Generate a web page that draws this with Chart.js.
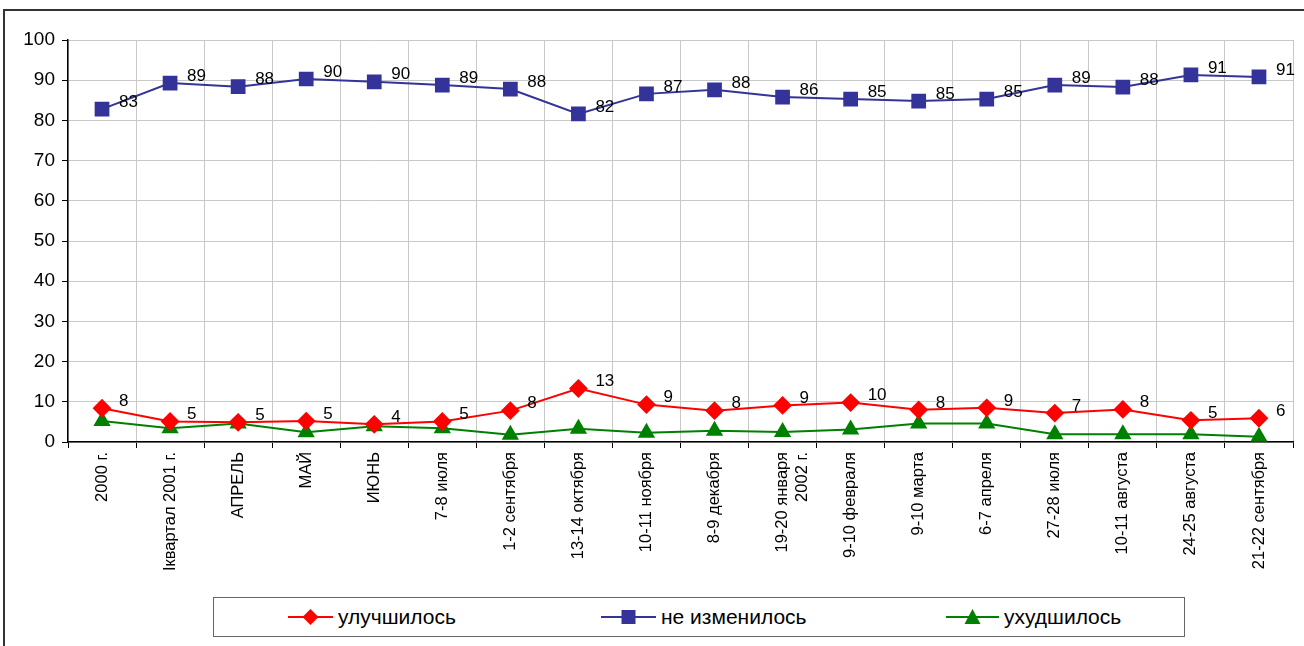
<!DOCTYPE html>
<html>
<head>
<meta charset="utf-8">
<script src="https://cdn.jsdelivr.net/npm/chart.js@4/dist/chart.umd.min.js"></script>
<style>
  body { margin:0; background:#fff; overflow:hidden; }
  #wrap { position:absolute; left:0; top:0; width:1304px; height:646px; }
  #frame { position:absolute; left:3px; top:9px; width:1400px; height:700px; border:2px solid #333; box-sizing:border-box; }
  #chart { position:absolute; left:0; top:0; }
  #legend { position:absolute; left:213px; top:597px; width:972px; height:40px; border:1px solid #666;
            box-sizing:border-box; font-family:"Liberation Sans", Arial, sans-serif; font-size:21px; color:#000; background:#fff; }
  .it { position:absolute; top:0; height:38px; line-height:38px; white-space:nowrap; }
  .it svg { vertical-align:middle; margin-right:5px; position:relative; top:-1px; }
</style>
</head>
<body>
<div id="wrap">
  <div id="frame"></div>
  <canvas id="chart" width="1304" height="646"></canvas>
  <div id="legend"></div>
</div>
<script>
var lbl = ["2000 г.","Iквартал 2001 г.","АПРЕЛЬ","МАЙ","ИЮНЬ","7-8 июля","1-2 сентября","13-14 октября",
  "10-11 ноября","8-9 декабря",["19-20 января","2002 г."],"9-10 февраля","9-10 марта","6-7 апреля",
  "27-28 июля","10-11 августа","24-25 августа","21-22 сентября"];
var better = [8.4,5.1,4.9,5.2,4.4,5.1,7.8,13.3,9.3,7.8,9.1,9.8,8.0,8.5,7.2,8.1,5.4,5.9];
var same = [82.8,89.3,88.4,90.3,89.6,88.8,87.8,81.6,86.6,87.6,85.8,85.3,84.8,85.3,88.8,88.3,91.3,90.8];
var worse = [5.2,3.4,4.6,2.4,3.9,3.4,1.8,3.3,2.3,2.8,2.5,3.1,4.6,4.6,1.9,1.9,1.9,1.3];
var names = ["улучшилось","не изменилось","ухудшилось"];
var cols = ["#FF0000","#333399","#008000"];

var FONT = '"Liberation Sans", Arial, sans-serif';

// value labels next to red and blue points
var valLabels = {
  id: 'valLabels',
  afterDatasetsDraw: function(chart){
    var ctx = chart.ctx;
    ctx.save();
    ctx.font = '17px ' + FONT;
    ctx.fillStyle = '#000';
    ctx.textAlign = 'left';
    ctx.textBaseline = 'middle';
    [0,1].forEach(function(di){
      var meta = chart.getDatasetMeta(di);
      meta.data.forEach(function(pt, i){
        var v = chart.data.datasets[di].data[i];
        ctx.fillText(Math.round(v), pt.x + 17, pt.y - 7);
      });
    });
    ctx.restore();
  }
};

var ctx = document.getElementById("chart");
var chart = new Chart(ctx, {
  type: 'line',
  data: {
    labels: lbl,
    datasets: [
      {label:names[0], data:better, borderColor:cols[0], backgroundColor:cols[0], borderWidth:2,
       pointStyle:'rectRot', pointRadius:8, pointHoverRadius:8},
      {label:names[1], data:same, borderColor:cols[1], backgroundColor:cols[1], borderWidth:2,
       pointStyle:'rect', pointRadius:9, pointHoverRadius:9},
      {label:names[2], data:worse, borderColor:cols[2], backgroundColor:cols[2], borderWidth:2,
       pointStyle:'triangle', pointRadius:8, pointHoverRadius:8}
    ]
  },
  options: {
    responsive: false,
    animation: false,
    layout: { padding: {left:4, top:40, right:3, bottom:54} },
    plugins: { legend:{display:false}, tooltip:{enabled:false} },
    scales: {
      x: {
        offset: true,
        grid: { offset:true, color:'#c8c8c8', tickColor:'#000', tickLength:6 },
        border: { color:'#000', width:1.5 },
        ticks: { color:'#000', font:{family:FONT, size:16.5}, maxRotation:90, minRotation:90, autoSkip:false, padding:4 },
        afterFit: function(s){ s.height = 150; }
      },
      y: {
        min:0, max:100,
        grid: { color:'#c8c8c8', tickColor:'#000', tickLength:6 },
        border: { color:'#000', width:1.5 },
        ticks: { stepSize:10, color:'#000', font:{family:FONT, size:19}, padding:7 },
        afterFit: function(s){ s.width = 64; }
      }
    }
  },
  plugins: [valLabels]
});

// legend
var lg = document.getElementById('legend');
var pos = [287, 600, 945];
var lw = [45, 55, 53];
for (var i = 0; i < 3; i++) {
  var w = lw[i], c = w / 2, shape;
  if (i === 0) shape = '<polygon points="' + c + ',2 ' + (c+8) + ',10 ' + c + ',18 ' + (c-8) + ',10" fill="' + cols[0] + '"/>';
  else if (i === 1) shape = '<rect x="' + (c-7) + '" y="3" width="14" height="14" fill="' + cols[1] + '"/>';
  else shape = '<polygon points="' + c + ',2 ' + (c+8) + ',17 ' + (c-8) + ',17" fill="' + cols[2] + '"/>';
  var d = document.createElement('div');
  d.className = 'it';
  d.style.left = (pos[i] - 213) + 'px';
  d.innerHTML = '<svg width="' + w + '" height="20"><line x1="0" y1="10" x2="' + w + '" y2="10" stroke="' + cols[i] +
    '" stroke-width="2"/>' + shape + '</svg>' + names[i];
  lg.appendChild(d);
}
</script>
</body>
</html>
